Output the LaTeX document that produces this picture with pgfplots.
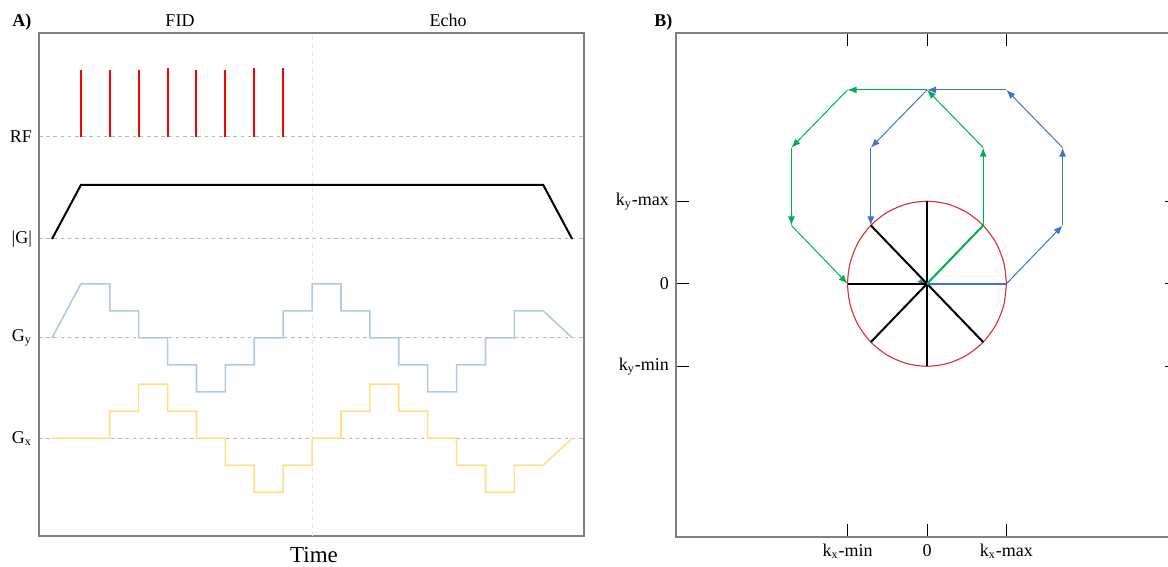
\documentclass[border=0pt]{standalone}
\usepackage{pgfplots}
\pgfplotsset{compat=1.18}
\usepackage{fontspec}
\setmainfont{Liberation Serif}
\usetikzlibrary{arrows.meta}
\definecolor{cgy}{HTML}{B4C7E7}
\definecolor{cgx}{HTML}{FFE08A}
\definecolor{cgreen}{HTML}{00B050}
\definecolor{cblue}{HTML}{4472C4}
\definecolor{cred}{HTML}{D63030}
\definecolor{cframe}{HTML}{808080}
\begin{document}
\begin{tikzpicture}
% ---------------- Panel A ----------------
\begin{axis}[
  at={(19.5pt,15.5pt)}, anchor=south west,
  scale only axis, width=272.5pt, height=251.5pt,
  xmin=-0.45, xmax=18.41, ymin=-3.62, ymax=15.01,
  xtick=\empty,
  ytick={0,3.72,7.38,11.16},
  yticklabels={G\textsubscript{x}, G\textsubscript{y}, |G|, RF},
  ymajorgrids,
  major y grid style={color=gray!55, line width=0.5pt, dash pattern=on 1.8pt off 1.8pt},
  major tick length=0pt,
  tick label style={font=\fontsize{9}{10}\selectfont},
  axis line style={cframe, line width=1pt},
]
% FID / Echo divider
\addplot[gray!18, line width=0.5pt, dash pattern=on 2pt off 2pt] coordinates {(9,-3.62)(9,15.01)};
% RF pulses
\addplot[red, line width=1pt, unbounded coords=jump] coordinates {
 (1,11.16)(1,13.64)(1,nan)
 (2,11.16)(2,13.64)(2,nan)
 (3,11.16)(3,13.64)(3,nan)
 (4,11.16)(4,13.70)(4,nan)
 (5,11.16)(5,13.64)(5,nan)
 (6,11.16)(6,13.64)(6,nan)
 (7,11.16)(7,13.70)(7,nan)
 (8,11.16)(8,13.70)};
% |G|
\addplot[black, line width=1pt] coordinates {(0,7.38)(1,9.38)(17,9.38)(18,7.38)};
% Gy
\addplot[cgy, line width=0.8pt] coordinates {
 (0,3.72)(1,5.72)(2,5.72)(2,4.72)(3,4.72)(3,3.72)(4,3.72)(4,2.72)(5,2.72)(5,1.72)
 (6,1.72)(6,2.72)(7,2.72)(7,3.72)(8,3.72)(8,4.72)(9,4.72)(9,5.72)(10,5.72)(10,4.72)
 (11,4.72)(11,3.72)(12,3.72)(12,2.72)(13,2.72)(13,1.72)(14,1.72)(14,2.72)(15,2.72)
 (15,3.72)(16,3.72)(16,4.72)(17,4.72)(18,3.72)};
% Gx
\addplot[cgx, line width=0.8pt] coordinates {
 (0,0)(2,0)(2,1)(3,1)(3,2)(4,2)(4,1)(5,1)(5,0)(6,0)(6,-1)(7,-1)(7,-2)(8,-2)(8,-1)
 (9,-1)(9,0)(10,0)(10,1)(11,1)(11,2)(12,2)(12,1)(13,1)(13,0)(14,0)(14,-1)(15,-1)
 (15,-2)(16,-2)(16,-1)(17,-1)(18,0)};
\end{axis}
% ---------------- Panel B ----------------
\begin{axis}[
  at={(338pt,15pt)}, anchor=south west,
  scale only axis, width=251pt, height=252pt,
  xmin=-3.16, xmax=3.16, ymin=-3.07, ymax=3.04,
  xtick={-1,0,1},
  xticklabels={k\textsubscript{x}-min, 0, k\textsubscript{x}-max},
  ytick={-1,0,1},
  yticklabels={k\textsubscript{y}-min, 0, k\textsubscript{y}-max},
  tick align=inside, xtick pos=both, ytick pos=both,
  xticklabel pos=lower, yticklabel pos=left,
  major tick length=6.5pt,
  tick style={black, line width=0.5pt},
  tick label style={font=\fontsize{9}{10}\selectfont},
  axis line style={cframe, line width=1pt},
]
% circle
\addplot[cred, line width=0.55pt, smooth] coordinates {
 (1,0)(0.9659,0.2588)(0.8660,0.5)(0.7071,0.7071)(0.5,0.8660)(0.2588,0.9659)(0,1)
 (-0.2588,0.9659)(-0.5,0.8660)(-0.7071,0.7071)(-0.8660,0.5)(-0.9659,0.2588)(-1,0)
 (-0.9659,-0.2588)(-0.8660,-0.5)(-0.7071,-0.7071)(-0.5,-0.8660)(-0.2588,-0.9659)(0,-1)
 (0.2588,-0.9659)(0.5,-0.8660)(0.7071,-0.7071)(0.8660,-0.5)(0.9659,-0.2588)(1,0)};
% small arrow head at centre
\addplot[cblue, line width=0.4pt, -{Latex[length=4pt,width=3pt]}] coordinates {(-0.12,0.03)(0,0)};
% black spokes
\addplot[black, line width=1pt] coordinates {(0,1)(0,-1)};
\addplot[black, line width=1pt] coordinates {(-0.7071,0.7071)(0.7071,-0.7071)};
\addplot[black, line width=1pt] coordinates {(-0.7071,-0.7071)(0,0)};
\addplot[black, line width=1pt] coordinates {(-1,0)(0,0)};
% coloured spokes
\addplot[cgreen, line width=1pt] coordinates {(0,0)(0.7071,0.7071)};
\addplot[cblue, line width=1pt] coordinates {(0,0)(1,0)};
% green trajectory
\addplot[cgreen, line width=0.5pt, -{Latex[length=4.5pt,width=3.5pt]}] coordinates {(0.7071,0.7071)(0.7071,1.65)};
\addplot[cgreen, line width=0.5pt, -{Latex[length=4.5pt,width=3.5pt]}] coordinates {(0.7071,1.65)(0,2.35)};
\addplot[cgreen, line width=0.5pt, -{Latex[length=4.5pt,width=3.5pt]}] coordinates {(0,2.35)(-1,2.35)};
\addplot[cgreen, line width=0.5pt, -{Latex[length=4.5pt,width=3.5pt]}] coordinates {(-1,2.35)(-1.7071,1.65)};
\addplot[cgreen, line width=0.5pt, -{Latex[length=4.5pt,width=3.5pt]}] coordinates {(-1.7071,1.65)(-1.7071,0.7071)};
\addplot[cgreen, line width=0.5pt, -{Latex[length=4.5pt,width=3.5pt]}] coordinates {(-1.7071,0.7071)(-1,0)};
% blue trajectory
\addplot[cblue, line width=0.5pt, -{Latex[length=4.5pt,width=3.5pt]}] coordinates {(1,0)(1.7071,0.7071)};
\addplot[cblue, line width=0.5pt, -{Latex[length=4.5pt,width=3.5pt]}] coordinates {(1.7071,0.7071)(1.7071,1.65)};
\addplot[cblue, line width=0.5pt, -{Latex[length=4.5pt,width=3.5pt]}] coordinates {(1.7071,1.65)(1,2.35)};
\addplot[cblue, line width=0.5pt, -{Latex[length=4.5pt,width=3.5pt]}] coordinates {(1,2.35)(0,2.35)};
\addplot[cblue, line width=0.5pt, -{Latex[length=4.5pt,width=3.5pt]}] coordinates {(0,2.35)(-0.7071,1.65)};
\addplot[cblue, line width=0.5pt, -{Latex[length=4.5pt,width=3.5pt]}] coordinates {(-0.7071,1.65)(-0.7071,0.7071)};
\end{axis}
% ---------------- labels ----------------
\node[anchor=base west, inner sep=0pt, font=\fontsize{9}{10}\selectfont\bfseries] at (6pt,270pt) {A)};
\node[anchor=base west, inner sep=0pt, font=\fontsize{9}{10}\selectfont\bfseries] at (327pt,270pt) {B)};
\node[anchor=base, inner sep=0pt, font=\fontsize{9}{10}\selectfont] at (90pt,270pt) {FID};
\node[anchor=base, inner sep=0pt, font=\fontsize{9}{10}\selectfont] at (224pt,270pt) {Echo};
\node[anchor=base, inner sep=0pt, font=\fontsize{11.5}{13}\selectfont] at (157pt,2pt) {Time};
\pgfresetboundingbox
\useasboundingbox (0,0) rectangle (584pt,283.5pt);
\end{tikzpicture}
\end{document}
